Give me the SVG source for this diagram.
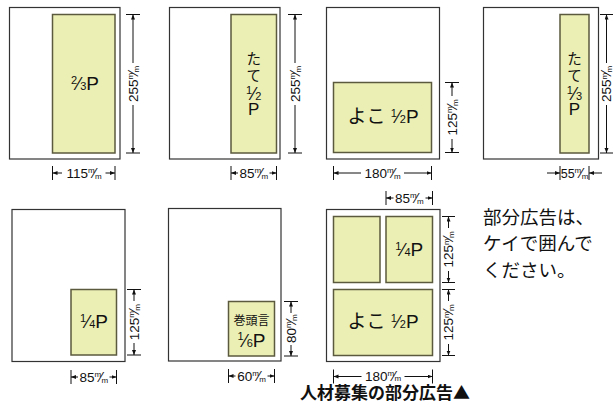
<svg xmlns="http://www.w3.org/2000/svg" width="613" height="403" viewBox="0 0 613 403">
<defs>
<marker id="ah" markerUnits="userSpaceOnUse" markerWidth="6" markerHeight="5" refX="5" refY="2" orient="auto">
<path d="M0,0 L5,2 L0,4 z" fill="#111"/>
</marker>
<style>
.page{fill:#fff;stroke:#333;stroke-width:1.2}
.ad{fill:#ebefb4;stroke:#5b5a3e;stroke-width:1.5}
.dl{stroke:#111;stroke-width:1;fill:none}
.ar{stroke:#111;stroke-width:1;fill:none;marker-end:url(#ah)}
.dim{font-family:"Liberation Sans",Arial,sans-serif;font-size:13.5px;fill:#111;text-anchor:middle}
.u{font-size:8px}
.sl{font-size:14px}
.lab{font-family:"Liberation Sans","Noto Sans CJK JP",sans-serif;font-size:19px;fill:#111;text-anchor:middle}
.kana{font-family:"Noto Sans CJK JP",sans-serif;font-size:14.5px;fill:#111;text-anchor:middle}
.fn{font-size:11px}
.fs{font-size:18px}
.jp{font-family:"Noto Sans CJK JP",sans-serif;fill:#111}
</style>
</defs>

<g id="page1">
<rect class="page" x="9.5" y="7.5" width="110.5" height="151.5"/>
<rect class="ad" x="52.5" y="14.5" width="62.5" height="138.5"/>
<text class="lab" x="85" y="90"><tspan class="fn" dy="-6.5">2</tspan><tspan class="fs" dy="6.5">⁄</tspan><tspan class="fn">3</tspan>P</text>
</g>
<g id="page2">
<rect class="page" x="169.5" y="7.5" width="110.5" height="151.5"/>
<rect class="ad" x="231" y="14.5" width="45.5" height="138.5"/>
<text class="kana" x="253.75" y="64">た</text>
<text class="kana" x="253.75" y="80.5">て</text>
<text class="lab" x="253.75" y="100"><tspan class="fn" dy="-6.5">1</tspan><tspan class="fs" dy="6.5">⁄</tspan><tspan class="fn">2</tspan></text>
<text class="lab" x="253.75" y="114.5" style="font-size:17px">P</text>
</g>
<g id="page3">
<rect class="page" x="326.5" y="7.5" width="113" height="151.5"/>
<rect class="ad" x="333.5" y="82.5" width="98" height="70"/>
<text class="lab" x="383" y="123">よこ <tspan class="fn" dy="-6.5">1</tspan><tspan class="fs" dy="6.5">⁄</tspan><tspan class="fn">2</tspan>P</text>
</g>
<g id="page4">
<rect class="page" x="483.5" y="7.5" width="115" height="151.5"/>
<rect class="ad" x="560" y="14.5" width="29" height="138.5"/>
<text class="kana" x="574.5" y="64">た</text>
<text class="kana" x="574.5" y="80.5">て</text>
<text class="lab" x="574.5" y="100"><tspan class="fn" dy="-6.5">1</tspan><tspan class="fs" dy="6.5">⁄</tspan><tspan class="fn">3</tspan></text>
<text class="lab" x="574.5" y="114.5" style="font-size:17px">P</text>
</g>
<g id="page5">
<rect class="page" x="12" y="209.5" width="113" height="152"/>
<rect class="ad" x="71" y="289.5" width="45.5" height="65.5"/>
<text class="lab" x="94" y="328"><tspan class="fn" dy="-6.5">1</tspan><tspan class="fs" dy="6.5">⁄</tspan><tspan class="fn">4</tspan>P</text>
</g>
<g id="page6">
<rect class="page" x="168.5" y="208.5" width="112.5" height="152.5"/>
<rect class="ad" x="228.5" y="301.5" width="46" height="54.5"/>
<text class="kana" x="251.5" y="324.5" style="font-size:12px">巻頭言</text>
<text class="lab" x="251.5" y="346.5"><tspan class="fn" dy="-6.5">1</tspan><tspan class="fs" dy="6.5">⁄</tspan><tspan class="fn">6</tspan>P</text>
</g>
<g id="page7">
<rect class="page" x="326.5" y="209.5" width="113.5" height="152"/>
<rect class="ad" x="333.5" y="216.5" width="46.5" height="66"/>
<rect class="ad" x="386" y="216.5" width="46.5" height="66"/>
<rect class="ad" x="333.5" y="289.5" width="99" height="66"/>
<text class="lab" x="409.25" y="256"><tspan class="fn" dy="-6.5">1</tspan><tspan class="fs" dy="6.5">⁄</tspan><tspan class="fn">4</tspan>P</text>
<text class="lab" x="383" y="328">よこ <tspan class="fn" dy="-6.5">1</tspan><tspan class="fs" dy="6.5">⁄</tspan><tspan class="fn">2</tspan>P</text>
</g>

<g id="connectors">
<path class="dl" d="M126,14.5H140M126,153H140M52.5,166V180M115,166V180"/>
<line class="ar" x1="133" y1="63" x2="133" y2="14.5"/>
<line class="ar" x1="133" y1="105" x2="133" y2="153"/>
<line class="ar" x1="62" y1="173" x2="52.5" y2="173"/>
<line class="ar" x1="105.5" y1="173" x2="115" y2="173"/>
<path class="dl" d="M288,14.5H302M288,153H302M231,166V180M276.5,166V180"/>
<line class="ar" x1="295" y1="63" x2="295" y2="14.5"/>
<line class="ar" x1="295" y1="105" x2="295" y2="153"/>
<line class="ar" x1="238" y1="173" x2="231" y2="173"/>
<line class="ar" x1="269.5" y1="173" x2="276.5" y2="173"/>
<path class="dl" d="M445,82.5H459M445,152.5H459M333.5,166V180M431.5,166V180"/>
<line class="ar" x1="452" y1="96" x2="452" y2="82.5"/>
<line class="ar" x1="452" y1="139" x2="452" y2="152.5"/>
<line class="ar" x1="361" y1="173" x2="333.5" y2="173"/>
<line class="ar" x1="404" y1="173" x2="431.5" y2="173"/>
<path class="dl" d="M600,14.5H613M600,153H613M560,166V180M589,166V180"/>
<line class="ar" x1="606.5" y1="63" x2="606.5" y2="14.5"/>
<line class="ar" x1="606.5" y1="105" x2="606.5" y2="153"/>
<line class="ar" x1="547" y1="173" x2="560" y2="173"/>
<line class="ar" x1="602" y1="173" x2="589" y2="173"/>
<path class="dl" d="M127,289.5H141M127,355H141M71,370V384M116.5,370V384"/>
<line class="ar" x1="134" y1="301" x2="134" y2="289.5"/>
<line class="ar" x1="134" y1="343" x2="134" y2="355"/>
<line class="ar" x1="78" y1="377" x2="71" y2="377"/>
<line class="ar" x1="109.5" y1="377" x2="116.5" y2="377"/>
<path class="dl" d="M284,301.5H298M284,356H298M228.5,369V383M274.5,369V383"/>
<line class="ar" x1="291" y1="313" x2="291" y2="301.5"/>
<line class="ar" x1="291" y1="345" x2="291" y2="356"/>
<line class="ar" x1="235.5" y1="376" x2="228.5" y2="376"/>
<line class="ar" x1="267.5" y1="376" x2="274.5" y2="376"/>
<path class="dl" d="M386,191V205M432.5,191V205M442,216.5H455M442,282.5H455M442,289.5H455M442,355.5H455M333.5,369.5V383.5M432.5,369.5V383.5"/>
<line class="ar" x1="393.5" y1="198" x2="386" y2="198"/>
<line class="ar" x1="425.5" y1="198" x2="432.5" y2="198"/>
<line class="ar" x1="448.5" y1="228" x2="448.5" y2="216.5"/>
<line class="ar" x1="448.5" y1="271" x2="448.5" y2="282.5"/>
<line class="ar" x1="448.5" y1="301" x2="448.5" y2="289.5"/>
<line class="ar" x1="448.5" y1="344" x2="448.5" y2="355.5"/>
<line class="ar" x1="361.5" y1="376.5" x2="333.5" y2="376.5"/>
<line class="ar" x1="404.5" y1="376.5" x2="432.5" y2="376.5"/>
</g>

<g id="dimension-labels">
<text class="dim" transform="translate(133,84) rotate(-90)" y="4.5">255<tspan class="u" dy="-4.5">m</tspan><tspan class="sl" dx="-1" dy="4.5">⁄</tspan><tspan class="u" dx="-1" dy="1">m</tspan></text>
<text class="dim" x="84" y="177.5">115<tspan class="u" dy="-4.5">m</tspan><tspan class="sl" dx="-1" dy="4.5">⁄</tspan><tspan class="u" dx="-1" dy="1">m</tspan></text>
<text class="dim" transform="translate(295,84) rotate(-90)" y="4.5">255<tspan class="u" dy="-4.5">m</tspan><tspan class="sl" dx="-1" dy="4.5">⁄</tspan><tspan class="u" dx="-1" dy="1">m</tspan></text>
<text class="dim" x="253.75" y="177.5">85<tspan class="u" dy="-4.5">m</tspan><tspan class="sl" dx="-1" dy="4.5">⁄</tspan><tspan class="u" dx="-1" dy="1">m</tspan></text>
<text class="dim" transform="translate(452,117.5) rotate(-90)" y="4.5">125<tspan class="u" dy="-4.5">m</tspan><tspan class="sl" dx="-1" dy="4.5">⁄</tspan><tspan class="u" dx="-1" dy="1">m</tspan></text>
<text class="dim" x="382.5" y="177.5">180<tspan class="u" dy="-4.5">m</tspan><tspan class="sl" dx="-1" dy="4.5">⁄</tspan><tspan class="u" dx="-1" dy="1">m</tspan></text>
<text class="dim" transform="translate(606.5,84) rotate(-90)" y="4.5">255<tspan class="u" dy="-4.5">m</tspan><tspan class="sl" dx="-1" dy="4.5">⁄</tspan><tspan class="u" dx="-1" dy="1">m</tspan></text>
<text class="dim" x="574.5" y="177.5" style="font-size:12.5px">55<tspan class="u" dy="-4.5">m</tspan><tspan class="sl" dx="-1" dy="4.5">⁄</tspan><tspan class="u" dx="-1" dy="1">m</tspan></text>
<text class="dim" transform="translate(134,322.25) rotate(-90)" y="4.5">125<tspan class="u" dy="-4.5">m</tspan><tspan class="sl" dx="-1" dy="4.5">⁄</tspan><tspan class="u" dx="-1" dy="1">m</tspan></text>
<text class="dim" x="93.75" y="381.5">85<tspan class="u" dy="-4.5">m</tspan><tspan class="sl" dx="-1" dy="4.5">⁄</tspan><tspan class="u" dx="-1" dy="1">m</tspan></text>
<text class="dim" transform="translate(291,328.75) rotate(-90)" y="4.5">80<tspan class="u" dy="-4.5">m</tspan><tspan class="sl" dx="-1" dy="4.5">⁄</tspan><tspan class="u" dx="-1" dy="1">m</tspan></text>
<text class="dim" x="251.5" y="380.5">60<tspan class="u" dy="-4.5">m</tspan><tspan class="sl" dx="-1" dy="4.5">⁄</tspan><tspan class="u" dx="-1" dy="1">m</tspan></text>
<text class="dim" x="409.25" y="202.5">85<tspan class="u" dy="-4.5">m</tspan><tspan class="sl" dx="-1" dy="4.5">⁄</tspan><tspan class="u" dx="-1" dy="1">m</tspan></text>
<text class="dim" transform="translate(448.5,249.5) rotate(-90)" y="4.5">125<tspan class="u" dy="-4.5">m</tspan><tspan class="sl" dx="-1" dy="4.5">⁄</tspan><tspan class="u" dx="-1" dy="1">m</tspan></text>
<text class="dim" transform="translate(448.5,322.5) rotate(-90)" y="4.5">125<tspan class="u" dy="-4.5">m</tspan><tspan class="sl" dx="-1" dy="4.5">⁄</tspan><tspan class="u" dx="-1" dy="1">m</tspan></text>
<text class="dim" x="383" y="380.5">180<tspan class="u" dy="-4.5">m</tspan><tspan class="sl" dx="-1" dy="4.5">⁄</tspan><tspan class="u" dx="-1" dy="0.5">m</tspan></text>
</g>

<g id="caption">
<text class="jp" x="385" y="398.5" font-size="17" font-weight="bold" text-anchor="middle">人材募集の部分広告▲</text>
</g>
<g id="note">
<text class="jp" x="483" y="223.5" font-size="18.5">部分広告は、</text>
<text class="jp" x="483" y="250" font-size="18.5">ケイで囲んで</text>
<text class="jp" x="483" y="276.5" font-size="18.5">ください。</text>
</g>
</svg>
